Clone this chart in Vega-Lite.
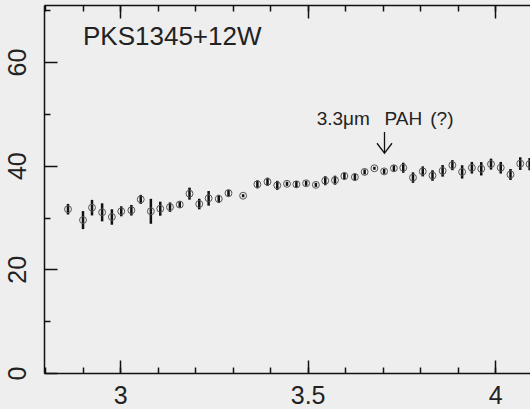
{
  "$schema": "https://vega.github.io/schema/vega-lite/v6.json",
  "width": 486,
  "height": 368,
  "autosize": {"type": "none"},
  "padding": {"left": 44, "top": 5, "right": 0, "bottom": 36},
  "background": "#eeeeee",
  "config": {
    "view": {"stroke": null},
    "axis": {
      "domainColor": "#111111",
      "domainWidth": 1.5,
      "tickColor": "#111111",
      "tickWidth": 1.5,
      "labelFont": "Liberation Sans",
      "labelFontSize": 25,
      "labelColor": "#222222",
      "grid": false,
      "title": null
    }
  },
  "datasets": {
    "spectrum": [
      {"wl": 2.861, "flux": 31.6, "err": 1.02},
      {"wl": 2.901, "flux": 29.5, "err": 1.74},
      {"wl": 2.925, "flux": 31.9, "err": 1.5},
      {"wl": 2.952, "flux": 31.0, "err": 1.74},
      {"wl": 2.978, "flux": 30.1, "err": 1.49},
      {"wl": 3.003, "flux": 31.2, "err": 0.97},
      {"wl": 3.030, "flux": 31.4, "err": 1.02},
      {"wl": 3.055, "flux": 33.5, "err": 0.87},
      {"wl": 3.082, "flux": 31.2, "err": 2.41},
      {"wl": 3.107, "flux": 31.7, "err": 1.35},
      {"wl": 3.133, "flux": 32.0, "err": 0.91},
      {"wl": 3.159, "flux": 32.5, "err": 0.58},
      {"wl": 3.185, "flux": 34.6, "err": 1.16},
      {"wl": 3.211, "flux": 32.6, "err": 1.02},
      {"wl": 3.236, "flux": 33.7, "err": 1.41},
      {"wl": 3.263, "flux": 33.6, "err": 0.77},
      {"wl": 3.289, "flux": 34.7, "err": 0.64},
      {"wl": 3.328, "flux": 34.2, "err": 0.29},
      {"wl": 3.366, "flux": 36.4, "err": 0.77},
      {"wl": 3.393, "flux": 36.9, "err": 0.77},
      {"wl": 3.419, "flux": 36.2, "err": 0.87},
      {"wl": 3.445, "flux": 36.5, "err": 0.39},
      {"wl": 3.470, "flux": 36.4, "err": 0.64},
      {"wl": 3.496, "flux": 36.6, "err": 0.48},
      {"wl": 3.522, "flux": 36.3, "err": 0.39},
      {"wl": 3.547, "flux": 37.1, "err": 0.87},
      {"wl": 3.573, "flux": 37.2, "err": 0.87},
      {"wl": 3.598, "flux": 38.0, "err": 0.68},
      {"wl": 3.626, "flux": 37.8, "err": 0.68},
      {"wl": 3.652, "flux": 38.8, "err": 0.48},
      {"wl": 3.678, "flux": 39.5, "err": 0.29},
      {"wl": 3.704, "flux": 38.9, "err": 0.48},
      {"wl": 3.730, "flux": 39.5, "err": 0.58},
      {"wl": 3.755, "flux": 39.6, "err": 0.97},
      {"wl": 3.781, "flux": 37.7, "err": 1.02},
      {"wl": 3.807, "flux": 38.9, "err": 0.97},
      {"wl": 3.833, "flux": 38.1, "err": 1.02},
      {"wl": 3.860, "flux": 39.0, "err": 1.12},
      {"wl": 3.886, "flux": 40.1, "err": 0.97},
      {"wl": 3.912, "flux": 38.8, "err": 1.29},
      {"wl": 3.938, "flux": 39.6, "err": 1.12},
      {"wl": 3.963, "flux": 39.4, "err": 1.29},
      {"wl": 3.989, "flux": 40.3, "err": 1.06},
      {"wl": 4.015, "flux": 39.6, "err": 1.12},
      {"wl": 4.041, "flux": 38.3, "err": 1.06},
      {"wl": 4.067, "flux": 40.4, "err": 1.22},
      {"wl": 4.092, "flux": 40.3, "err": 1.16}
    ],
    "source": [{"text": "PKS1345+12W", "x": 2.901, "y": 63.3}],
    "feature": [
      {"text": "3.3μm", "x": 3.524, "y": 47.8},
      {"text": "PAH", "x": 3.705, "y": 47.8},
      {"text": "(?)", "x": 3.827, "y": 47.8}
    ],
    "arrow": [{"x": 3.705, "y": 46.5, "y2": 42.4}]
  },
  "layer": [
    {
      "data": {"name": "spectrum"},
      "mark": {"type": "errorbar", "ticks": false, "thickness": 2.5, "color": "#111111"},
      "encoding": {
        "x": {"field": "wl", "type": "quantitative", "scale": {"domain": [2.797, 4.093], "nice": false, "zero": false}, "axis": null},
        "y": {"field": "flux", "type": "quantitative", "scale": {"domain": [0, 71], "nice": false}, "axis": null},
        "yError": {"field": "err"}
      }
    },
    {
      "data": {"name": "spectrum"},
      "mark": {"type": "point", "shape": "circle", "filled": false, "size": 48, "stroke": "#555555", "strokeWidth": 1, "opacity": 1},
      "encoding": {
        "x": {
          "field": "wl", "type": "quantitative",
          "scale": {"domain": [2.797, 4.093], "nice": false, "zero": false},
          "axis": {"orient": "bottom", "values": [3, 3.5, 4], "format": "~g", "tickSize": -13, "labelPadding": 23, "domain": true}
        },
        "y": {
          "field": "flux", "type": "quantitative",
          "scale": {"domain": [0, 71], "nice": false},
          "axis": {"orient": "left", "values": [0, 20, 40, 60], "format": "d", "tickSize": -13, "labelPadding": 27, "labelAngle": -90, "labelAlign": "center", "labelBaseline": "bottom", "domain": true}
        }
      }
    },
    {
      "data": {"name": "feature"},
      "mark": {"type": "text", "font": "Liberation Sans", "fontSize": 19, "align": "left", "baseline": "alphabetic", "color": "#222222"},
      "encoding": {
        "x": {
          "field": "x", "type": "quantitative",
          "scale": {"domain": [2.797, 4.093], "nice": false, "zero": false},
          "axis": {"orient": "bottom", "values": [2.8, 2.9, 3.0, 3.1, 3.2, 3.3, 3.4, 3.5, 3.6, 3.7, 3.8, 3.9, 4.0], "tickSize": -6, "labels": false, "domain": false}
        },
        "y": {
          "field": "y", "type": "quantitative",
          "scale": {"domain": [0, 71], "nice": false},
          "axis": {"orient": "left", "values": [10, 30, 50, 70], "tickSize": -6, "labels": false, "domain": false}
        },
        "text": {"field": "text"}
      }
    },
    {
      "data": {"name": "source"},
      "mark": {"type": "text", "font": "Liberation Sans", "fontSize": 26, "align": "left", "baseline": "alphabetic", "color": "#222222"},
      "encoding": {
        "x": {
          "field": "x", "type": "quantitative",
          "scale": {"domain": [2.797, 4.093], "nice": false, "zero": false},
          "axis": {"orient": "top", "values": [3, 3.5, 4], "tickSize": -13, "labels": false, "domain": true}
        },
        "y": {"field": "y", "type": "quantitative", "scale": {"domain": [0, 71], "nice": false}, "axis": null},
        "text": {"field": "text"}
      }
    },
    {
      "data": {"name": "arrow"},
      "mark": {"type": "rule", "color": "#111111", "strokeWidth": 1.3},
      "encoding": {
        "x": {
          "field": "x", "type": "quantitative",
          "scale": {"domain": [2.797, 4.093], "nice": false, "zero": false},
          "axis": {"orient": "top", "values": [2.8, 2.9, 3.0, 3.1, 3.2, 3.3, 3.4, 3.5, 3.6, 3.7, 3.8, 3.9, 4.0], "tickSize": -6, "labels": false, "domain": false}
        },
        "y": {"field": "y", "type": "quantitative", "scale": {"domain": [0, 71], "nice": false}, "axis": null},
        "y2": {"field": "y2"}
      }
    },
    {
      "data": {"name": "arrow"},
      "mark": {"type": "point", "shape": "M -1 -1.33 L 0 0 L 1 -1.33", "filled": false, "size": 225, "stroke": "#111111", "strokeWidth": 1.3, "opacity": 1},
      "encoding": {
        "x": {"field": "x", "type": "quantitative", "scale": {"domain": [2.797, 4.093], "nice": false, "zero": false}, "axis": null},
        "y": {"field": "y2", "type": "quantitative", "scale": {"domain": [0, 71], "nice": false}, "axis": null}
      }
    }
  ],
  "resolve": {"axis": {"x": "independent", "y": "independent"}}
}
